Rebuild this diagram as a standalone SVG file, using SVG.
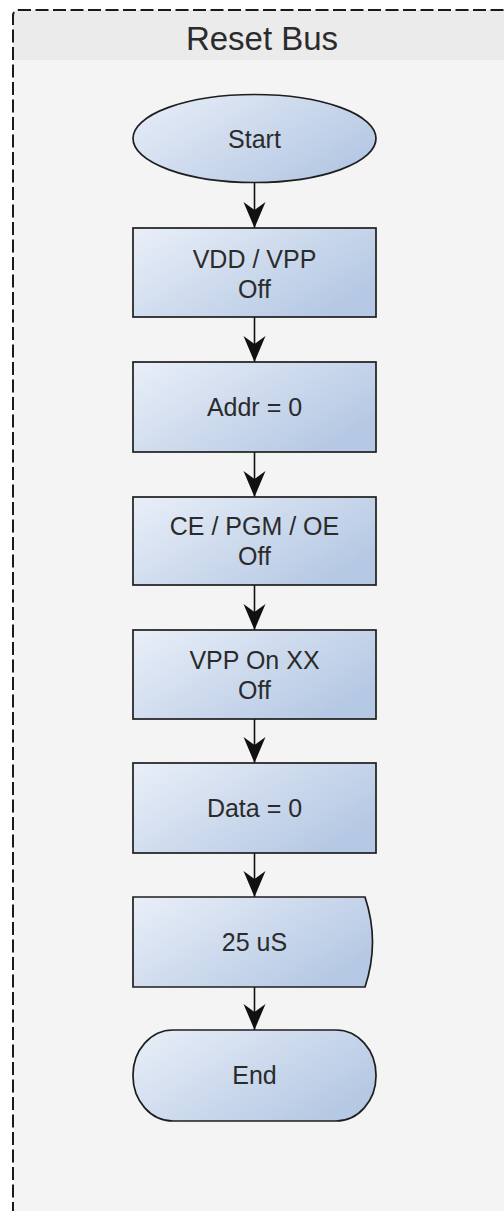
<svg xmlns="http://www.w3.org/2000/svg" width="504" height="1211" viewBox="0 0 504 1211">
  <defs>
    <linearGradient id="nodeFill" x1="0" y1="0" x2="1" y2="0.6">
      <stop offset="0" stop-color="#e9eff8"/>
      <stop offset="1" stop-color="#b6c9e4"/>
    </linearGradient>
    <marker id="arrow" markerUnits="userSpaceOnUse" markerWidth="28" markerHeight="24" viewBox="-27 -12 28 24" refX="0" refY="0" orient="auto">
      <path d="M0,0 L-26,-11 L-18,0 L-26,11 Z" fill="#111"/>
    </marker>
    <style>
      .node { fill: url(#nodeFill); stroke: #1e1e1e; stroke-width: 1.7; }
      .lbl { font-family: "Liberation Sans", Arial, sans-serif; font-size: 25px; fill: #2b2b2b; text-anchor: middle; }
      .title { font-family: "Liberation Sans", Arial, sans-serif; font-size: 33px; fill: #2b2b2b; text-anchor: middle; }
      .conn { stroke: #111; stroke-width: 1.6; fill: none; marker-end: url(#arrow); }
    </style>
  </defs>

  <rect x="0" y="0" width="504" height="1211" fill="#ffffff"/>

  <g id="frame">
    <path d="M13,1215 L13,16 Q13,10 19,10 L515,10 L515,1215" fill="#f4f4f4"/>
    <path d="M13,60 L13,16 Q13,10 19,10 L515,10 L515,60 Z" fill="#ebebeb"/>
    <path d="M13,1215 L13,16 Q13,10 19,10 L515,10" fill="none" stroke="#1a1a1a" stroke-width="2" stroke-dasharray="13,4.5"/>
    <text class="title" x="262" y="50">Reset Bus</text>
  </g>

  <g id="connectors">
    <line class="conn" x1="254.5" y1="183" x2="254.5" y2="228"/>
    <line class="conn" x1="254.5" y1="317" x2="254.5" y2="362"/>
    <line class="conn" x1="254.5" y1="452" x2="254.5" y2="497"/>
    <line class="conn" x1="254.5" y1="585" x2="254.5" y2="630"/>
    <line class="conn" x1="254.5" y1="719" x2="254.5" y2="763"/>
    <line class="conn" x1="254.5" y1="853" x2="254.5" y2="897"/>
    <line class="conn" x1="254.5" y1="987" x2="254.5" y2="1030"/>
  </g>

  <g id="start">
    <ellipse class="node" cx="254.5" cy="138.5" rx="121.5" ry="44"/>
    <text class="lbl" x="254.5" y="148">Start</text>
  </g>

  <g id="vdd-vpp-off">
    <rect class="node" x="133" y="228" width="243" height="89"/>
    <text class="lbl" x="254.5" y="268">VDD / VPP</text>
    <text class="lbl" x="254.5" y="298">Off</text>
  </g>

  <g id="addr-0">
    <rect class="node" x="133" y="362" width="243" height="90"/>
    <text class="lbl" x="254.5" y="416">Addr = 0</text>
  </g>

  <g id="ce-pgm-oe-off">
    <rect class="node" x="133" y="497" width="243" height="88"/>
    <text class="lbl" x="254.5" y="535">CE / PGM / OE</text>
    <text class="lbl" x="254.5" y="565">Off</text>
  </g>

  <g id="vpp-on-xx-off">
    <rect class="node" x="133" y="630" width="243" height="89"/>
    <text class="lbl" x="254.5" y="669">VPP On XX</text>
    <text class="lbl" x="254.5" y="699">Off</text>
  </g>

  <g id="data-0">
    <rect class="node" x="133" y="763" width="243" height="90"/>
    <text class="lbl" x="254.5" y="817">Data = 0</text>
  </g>

  <g id="delay-25us">
    <path class="node" d="M133,897 L365,897 Q380,942 365,987 L133,987 Z"/>
    <text class="lbl" x="254.5" y="951">25 uS</text>
  </g>

  <g id="end">
    <rect class="node" x="133" y="1030" width="243" height="91" rx="40" ry="45"/>
    <text class="lbl" x="254.5" y="1084">End</text>
  </g>
</svg>
